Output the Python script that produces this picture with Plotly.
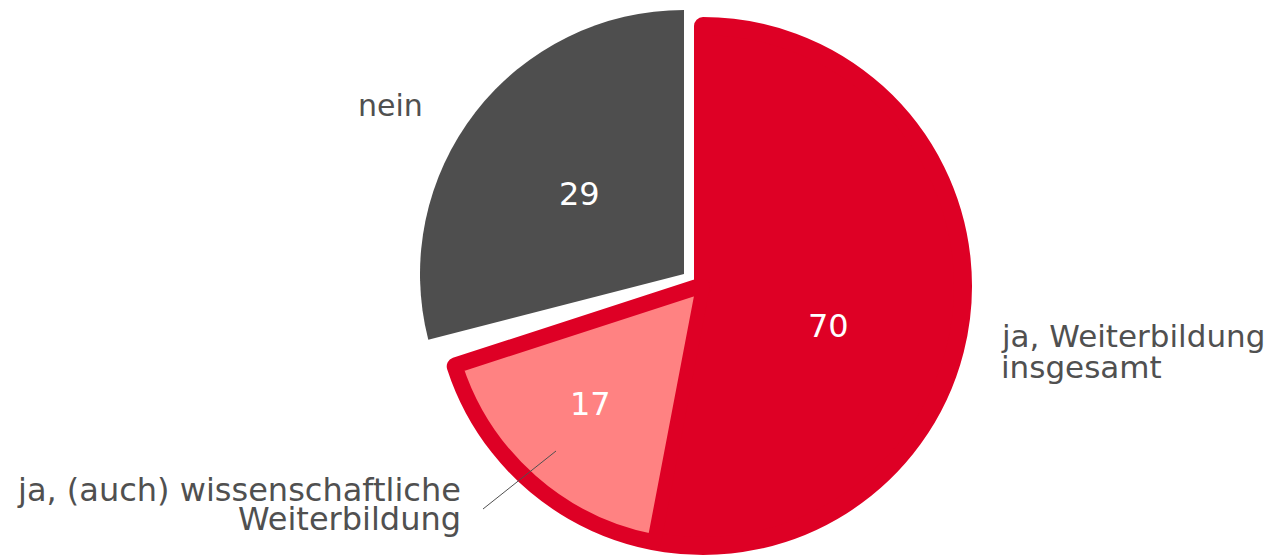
import plotly.graph_objects as go

# ---- data ----
categories = ["ja, Weiterbildung insgesamt", "keine Angabe", "nein"]
values = [70, 1, 29]          # the 1 % remainder is drawn as an empty gap
sub_category = "ja, (auch) wissenschaftliche Weiterbildung"
sub_value = 17
value_labels = ["70", "29", "17"]

RED = "#DE0025"
GRAY = "#4E4E4E"
PINK = "#FF8282"
TXT = "#505050"
CLEAR = "rgba(0,0,0,0)"
FONT = "DejaVu Sans"

W, H = 1278, 557
OFF = 8  # page body margin offset


def dom(cx, cy, r):
    cx -= OFF
    cy -= OFF
    return dict(x=[(cx - r) / W, (cx + r) / W], y=[1 - (cy + r) / H, 1 - (cy - r) / H])


def px(x, y):
    return (x - OFF) / W, 1 - (y - OFF) / H


fig = go.Figure()

# main red slice (with thick red outline)
fig.add_trace(go.Pie(
    values=values, labels=categories, sort=False, direction="clockwise", rotation=0,
    marker=dict(colors=[RED, CLEAR, CLEAR], line=dict(color=[RED, CLEAR, CLEAR], width=[18, 0, 0])),
    textinfo="none", hoverinfo="skip", showlegend=False,
    domain=dom(703, 286, 260),
))

# exploded gray slice
fig.add_trace(go.Pie(
    values=values, labels=categories, sort=False, direction="clockwise", rotation=0,
    marker=dict(colors=[CLEAR, CLEAR, GRAY], line=dict(width=0)),
    textinfo="none", hoverinfo="skip", showlegend=False,
    domain=dom(684, 274, 264),
))

# inner pink sub-slice within the red slice
sub_vals = [values[0] - sub_value, sub_value, values[1] + values[2]]
fig.add_trace(go.Pie(
    values=sub_vals, labels=["rest", sub_category, "other"], sort=False, direction="clockwise", rotation=0,
    marker=dict(colors=[CLEAR, PINK, CLEAR], line=dict(color=[CLEAR, RED, CLEAR], width=[0, 14, 0])),
    textinfo="none", hoverinfo="skip", showlegend=False,
    domain=dom(703, 286, 260),
))

ann = []


def add_text(text, x, y, xanchor, size, color):
    xp, yp = px(x, y)
    ann.append(dict(text=text, x=xp, y=yp, xref="paper", yref="paper", xanchor=xanchor,
                    yanchor="middle", showarrow=False, font=dict(family=FONT, size=size, color=color)))


# numbers
add_text(value_labels[0], 829, 326, "center", 32, "white")
add_text(value_labels[1], 579, 194, "center", 32, "white")
add_text(value_labels[2], 590, 404, "center", 32, "white")

# category labels
add_text("nein", 390, 105, "center", 30, TXT)
add_text("ja, Weiterbildung", 999, 336, "left", 31, TXT)
add_text("insgesamt", 999, 367, "left", 31, TXT)
add_text("ja, (auch) wissenschaftliche", 463, 490, "right", 32, TXT)
add_text("Weiterbildung", 463, 519, "right", 32, TXT)

x0, y0 = px(483, 509)
x1, y1 = px(556, 451)
fig.add_shape(type="line", xref="paper", yref="paper", x0=x0, y0=y0, x1=x1, y1=y1,
              line=dict(color=TXT, width=1))

fig.update_layout(
    width=W, height=H, margin=dict(l=0, r=0, t=0, b=0),
    paper_bgcolor="white", plot_bgcolor="white",
    annotations=ann,
)

fig.write_html("out.html")
